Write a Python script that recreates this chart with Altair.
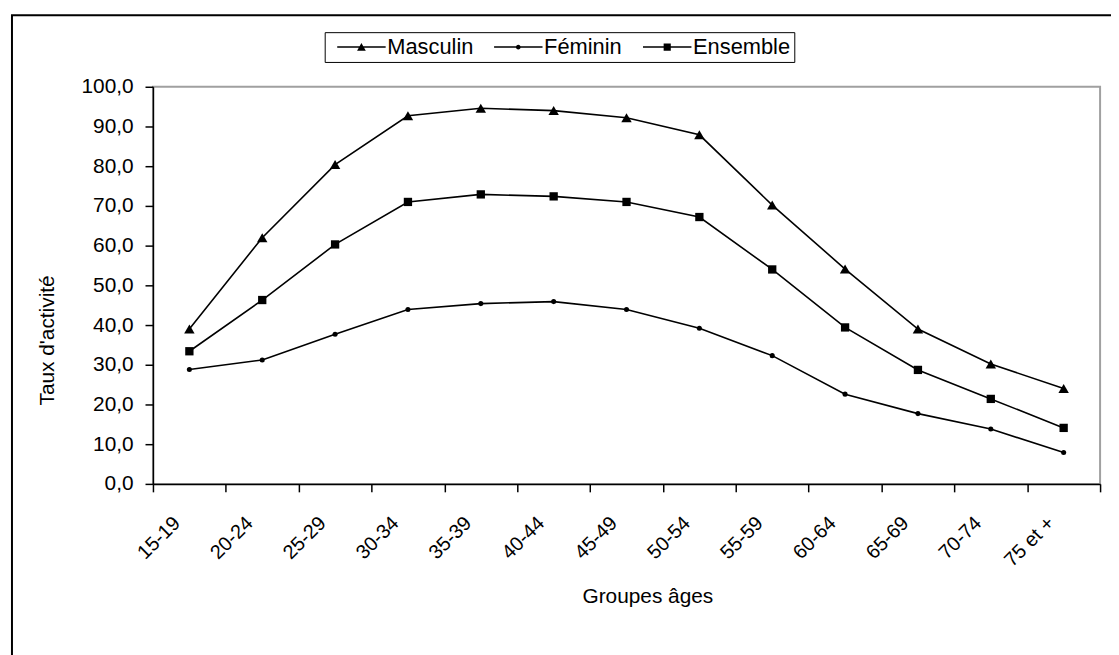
import altair as alt
import pandas as pd

groupes = ["15-19", "20-24", "25-29", "30-34", "35-39", "40-44", "45-49",
           "50-54", "55-59", "60-64", "65-69", "70-74", "75 et +"]
masculin = [39.0, 62.0, 80.4, 92.7, 94.6, 94.0, 92.2, 87.9, 70.2, 54.1, 39.0, 30.2, 24.0]
feminin = [28.8, 31.2, 37.7, 43.9, 45.4, 45.9, 43.9, 39.2, 32.3, 22.6, 17.7, 13.8, 7.9]
ensemble = [33.4, 46.3, 60.3, 71.0, 72.9, 72.4, 71.0, 67.2, 54.0, 39.4, 28.7, 21.4, 14.1]
series = ["Masculin", "Féminin", "Ensemble"]

rows = []
for s, vals in zip(series, [masculin, feminin, ensemble]):
    for g, v in zip(groupes, vals):
        rows.append({"groupe": g, "serie": s, "taux": v})
df = pd.DataFrame(rows)

FONT = "Liberation Sans"

x_enc = alt.X(
    "groupe:N", sort=groupes,
    scale=alt.Scale(type="band", paddingInner=0, paddingOuter=0),
    axis=alt.Axis(
        title="Groupes âges", labelAngle=-45, labelAlign="right", labelBaseline="top",
        labelOffset=-20, labelPadding=21, tickBand="extent", tickSize=8,
        tickColor="black", tickWidth=1.5, domainColor="black", domainWidth=1.5,
        labelFont=FONT, labelFontSize=20, labelColor="black",
        titleFont=FONT, titleFontSize=21, titleFontWeight="normal", titleColor="black",
        titleX=498, titleY=113, titleAlign="center", titleBaseline="middle",
        grid=False,
    ),
)
y_enc = alt.Y(
    "taux:Q",
    scale=alt.Scale(domain=[0, 100], nice=False, zero=True),
    axis=alt.Axis(
        title="Taux d'activité", values=list(range(0, 101, 10)),
        labelExpr="replace(format(datum.value, '.1f'), '.', ',')",
        tickSize=8, tickColor="black", tickWidth=1.5, domainColor="black", domainWidth=1.5,
        labelFont=FONT, labelFontSize=21, labelColor="black", labelPadding=12,
        titleFont=FONT, titleFontSize=21, titleFontWeight="normal", titleColor="black",
        titleX=-106, titleY=255, titleAngle=270, titleAlign="center", titleBaseline="middle",
        grid=False,
    ),
)

base = alt.Chart(df)

frame = alt.Chart(pd.DataFrame({"k": [0]})).mark_rect(
    filled=False, stroke="black", strokeWidth=2
).encode(
    x=alt.value(-142), x2=alt.value(1000), y=alt.value(-72), y2=alt.value(600)
)

lines = base.mark_line(color="black", strokeWidth=1.6).encode(
    x=x_enc, y=y_enc, detail="serie:N"
)

points = base.mark_point(filled=True, color="black", opacity=1).encode(
    x=x_enc, y=y_enc,
    shape=alt.Shape("serie:N", scale=alt.Scale(domain=series,
                    range=["triangle-up", "circle", "square"]), legend=None),
    size=alt.Size("serie:N", scale=alt.Scale(type="ordinal", domain=series,
                  range=[110, 26, 70]), legend=None),
)

leg_paths = [
    "M-6.1,-0.19H6.1V0.19H-6.1ZM-1.1,0.9L0,-1L1.1,0.9Z",
    "M-6.1,-0.19H6.1V0.19H-6.1ZM-0.6,0A0.6,0.6,0,1,1,0.6,0A0.6,0.6,0,1,1,-0.6,0Z",
    "M-6.1,-0.19H6.1V0.19H-6.1ZM-0.9,-0.9H0.9V0.9H-0.9Z",
]

legend_layer = base.transform_calculate(leg="datum.serie").mark_point(
    filled=True, color="black", opacity=0
).encode(
    x=x_enc, y=y_enc,
    shape=alt.Shape("leg:N", scale=alt.Scale(domain=series, range=leg_paths),
                    legend=alt.Legend(
                        title=None, orient="none", direction="horizontal",
                        legendX=173, legendY=-55,
                        strokeColor="black", fillColor="white", padding=4,
                        symbolSize=64, symbolOpacity=1, symbolFillColor="black",
                        symbolStrokeWidth=1.5,
                        symbolOffset=22, labelOffset=15, columnPadding=12,
                        labelFont=FONT, labelFontSize=22, labelColor="black",
                    )),
)

chart = alt.layer(frame, lines, points, legend_layer).resolve_scale(
    shape="independent", size="independent"
).properties(
    width=954, height=400,
    autosize=alt.AutoSizeParams(type="none"),
    padding={"left": 146, "top": 77, "right": 11, "bottom": 170},
    background="white",
).configure_view(
    stroke="#a0a0a0", strokeWidth=2
)

chart.save("out.html", embed_options={"renderer": "svg", "actions": False})
